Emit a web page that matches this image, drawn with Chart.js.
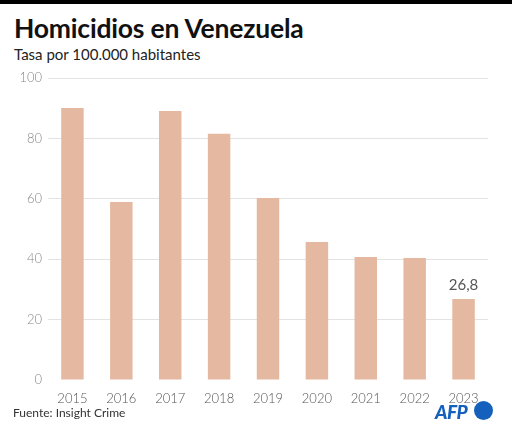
<!DOCTYPE html>
<html>
<head>
<meta charset="utf-8">
<script src="https://cdn.jsdelivr.net/npm/chart.js@4"></script>
<style>
  body { margin: 0; background: #fff; font-family: Lato, "Noto Sans", sans-serif; }
  #wrap { position: relative; width: 512px; height: 433px; overflow: hidden; }
  #topbar { position: absolute; left: 0; top: 0; width: 512px; height: 4px; background: #000; }
  #title { position: absolute; left: 14px; top: 12px; font-size: 26.5px; font-weight: 700; color: #111; letter-spacing: -0.2px; }
  #subtitle { position: absolute; left: 14px; top: 45px; font-size: 15px; color: #222; }
  #source { position: absolute; left: 13px; top: 405px; font-size: 12px; color: #333; }
  #afp { position: absolute; left: 435px; top: 400px; font-size: 19px; font-weight: 900; font-style: italic; color: #1560bd; letter-spacing: -0.5px; }
  #dot { position: absolute; left: 474px; top: 401px; width: 19px; height: 19px; border-radius: 50%; background: #1560bd; }
  canvas { position: absolute; left: 0; top: 0; }
</style>
</head>
<body>
<div id="wrap">
  <div id="topbar"></div>
  <div id="title">Homicidios en Venezuela</div>
  <div id="subtitle">Tasa por 100.000 habitantes</div>
  <canvas id="chart" width="512" height="433"></canvas>
  <div id="source">Fuente: Insight Crime</div>
  <div id="afp">AFP</div>
  <div id="dot"></div>
</div>
<script>
const years = ['2015', '2016', '2017', '2018', '2019', '2020', '2021', '2022', '2023'];
const rates = [90.1, 58.9, 89.1, 81.5, 60.3, 45.7, 40.7, 40.4, 26.8];
const lastLabel = '26,8';

// label over the last bar
const lastValuePlugin = {
    id: 'lastValue',
    afterDatasetsDraw(chart) {
        const meta = chart.getDatasetMeta(0);
        const bar = meta.data[meta.data.length - 1];
        const c = chart.ctx;
        c.save();
        c.font = '15px Lato, "Noto Sans", sans-serif';
        c.fillStyle = '#555';
        c.textAlign = 'center';
        c.textBaseline = 'bottom';
        c.fillText(lastLabel, bar.x, bar.y - 6);
        c.restore();
    }
};

new Chart(document.getElementById('chart'), {
    type: 'bar',
    data: {
        labels: years,
        datasets: [{
            data: rates,
            backgroundColor: '#e5b9a1',
            categoryPercentage: 1,
            barPercentage: 0.46
        }]
    },
    options: {
        responsive: false,
        animation: false,
        layout: { padding: { left: 0, right: 24, top: 78, bottom: 0 } },
        plugins: {
            legend: { display: false },
            tooltip: { enabled: false }
        },
        scales: {
            x: {
                grid: { display: false },
                border: { display: false },
                ticks: { color: '#555', font: { size: 13, family: 'Lato', weight: 300 }, padding: 3 },
                afterFit(scale) { scale.height = 53; }
            },
            y: {
                min: 0,
                max: 100,
                ticks: { stepSize: 20, color: '#888', font: { size: 13, family: 'Lato', weight: 300 }, padding: 6 },
                grid: {
                    color: ctx => ctx.tick && ctx.tick.value === 0 ? 'rgba(0,0,0,0)' : '#e3e3e3',
                    drawTicks: false
                },
                border: { display: false },
                afterFit(scale) { scale.width = 48; }
            }
        }
    },
    plugins: [lastValuePlugin]
});
</script>
</body>
</html>
